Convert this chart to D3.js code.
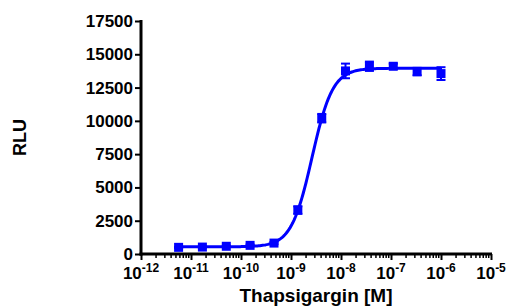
<!DOCTYPE html>
<html>
<head>
<meta charset="utf-8">
<script src="https://cdn.jsdelivr.net/npm/d3@7"></script>
<style>
  body { margin: 0; background: #fff; }
  text { font-family: "Liberation Sans", Arial, sans-serif; }
</style>
</head>
<body>
<div class="chart"></div>
<script>
// thapsigargin dose response, 3-fold dilutions from 1 uM
var conc = [5.65e-12, 1.69e-11, 5.08e-11, 1.52e-10, 4.57e-10, 1.37e-9,
            4.12e-9, 1.23e-8, 3.70e-8, 1.11e-7, 3.33e-7, 1e-6];
var rlu  = [500, 520, 580, 650, 820, 3300, 10200, 13750, 14100, 14100, 13700, 13550];
var sd   = [40, 40, 50, 60, 80, 280, 320, 550, 350, 200, 280, 480];
var yTicks = [0, 2500, 5000, 7500, 10000, 12500, 15000, 17500];
var xExps = [-12, -11, -10, -9, -8, -7, -6, -5];
// 4PL fit
var fitBottom = 540, fitTop = 13950, fitLogEC50 = -8.58, fitHill = 2.1;

var W = 507, H = 308,
  margin = { top: 21, right: 16, bottom: 54, left: 141 },
  width = W - margin.left - margin.right,
  height = H - margin.top - margin.bottom,
  blue = '#0000ff';

var svg = d3.select('.chart')
  .append('svg')
    .attr('width', W)
    .attr('height', H)
  .append('g')
    .attr('transform', `translate(${margin.left}, ${margin.top})`);

var x = d3.scaleLog().domain([1e-12, 1e-5]).range([0, width]);
var y = d3.scaleLinear().domain([0, 17500]).range([height, 0]);

// y axis
var gY = svg.append('g')
  .call(d3.axisLeft(y).tickValues(yTicks).tickSize(6).tickPadding(2).tickFormat(d3.format('d')));
gY.select('.domain').attr('stroke-width', 3).attr('d', `M0,${height + 1.5}V-1`);
gY.selectAll('.tick line').attr('stroke-width', 2);
gY.selectAll('.tick text')
  .style('font-size', '17px').style('font-weight', 'bold').attr('fill', '#000');

// x axis with minor ticks
var minor = [];
xExps.slice(0, -1).forEach(e => {
  for (var k = 2; k <= 9; k++) minor.push(k * Math.pow(10, e));
});
var gX = svg.append('g')
  .attr('transform', `translate(0, ${height})`)
  .call(d3.axisBottom(x).tickValues(xExps.map(e => Math.pow(10, e))).tickSize(6).tickFormat(''));
gX.select('.domain').attr('stroke-width', 3).attr('d', `M-1.5,0H${width + 1}`);
gX.selectAll('.tick line').attr('stroke-width', 2);

gX.selectAll('.minor')
  .data(minor)
  .enter()
  .append('line')
    .attr('x1', d => x(d)).attr('x2', d => x(d))
    .attr('y1', 0).attr('y2', 4)
    .attr('stroke', '#000').attr('stroke-width', 1.5);

var xl = gX.selectAll('.xlab')
  .data(xExps)
  .enter()
  .append('text')
    .attr('x', d => x(Math.pow(10, d)))
    .attr('y', 25)
    .attr('text-anchor', 'middle')
    .style('font-weight', 'bold')
    .attr('fill', '#000');
xl.append('tspan').style('font-size', '17px').text('10');
xl.append('tspan').style('font-size', '12px').attr('dy', -7).text(d => d);

// axis titles
svg.append('text')
  .attr('x', width / 2)
  .attr('y', height + 48)
  .attr('text-anchor', 'middle')
  .style('font-size', '19px').style('font-weight', 'bold')
  .text('Thapsigargin [M]');

svg.append('text')
  .attr('transform', `translate(${-115}, ${height / 2}) rotate(-90)`)
  .attr('text-anchor', 'middle')
  .style('font-size', '18px').style('font-weight', 'bold')
  .text('RLU');

// fitted curve
var lx0 = Math.log10(conc[0]), lx1 = Math.log10(conc[conc.length - 1]);
var curve = d3.range(0, 201).map(i => {
  var lx = lx0 + (lx1 - lx0) * i / 200;
  return [Math.pow(10, lx), fitBottom + (fitTop - fitBottom) / (1 + Math.pow(10, (fitLogEC50 - lx) * fitHill))];
});
svg.append('path')
  .datum(curve)
  .attr('fill', 'none')
  .attr('stroke', blue)
  .attr('stroke-width', 3)
  .attr('d', d3.line().x(d => x(d[0])).y(d => y(d[1])));

// points with error bars
var data = conc.map((c, i) => ({ c: c, v: rlu[i], e: sd[i] }));
var pts = svg.selectAll('.pt')
  .data(data)
  .enter()
  .append('g')
    .attr('class', 'pt');

pts.append('line')
  .attr('x1', d => x(d.c)).attr('x2', d => x(d.c))
  .attr('y1', d => y(d.v - d.e)).attr('y2', d => y(d.v + d.e))
  .attr('stroke', blue).attr('stroke-width', 2);
pts.selectAll('.cap')
  .data(d => [d.v - d.e, d.v + d.e].map(v => ({ c: d.c, v: v })))
  .enter()
  .append('line')
    .attr('x1', d => x(d.c) - 4.5).attr('x2', d => x(d.c) + 4.5)
    .attr('y1', d => y(d.v)).attr('y2', d => y(d.v))
    .attr('stroke', blue).attr('stroke-width', 2);
pts.append('rect')
  .attr('x', d => x(d.c) - 4.5)
  .attr('y', d => y(d.v) - 4.5)
  .attr('width', 9).attr('height', 9)
  .attr('fill', blue);
</script>
</body>
</html>
